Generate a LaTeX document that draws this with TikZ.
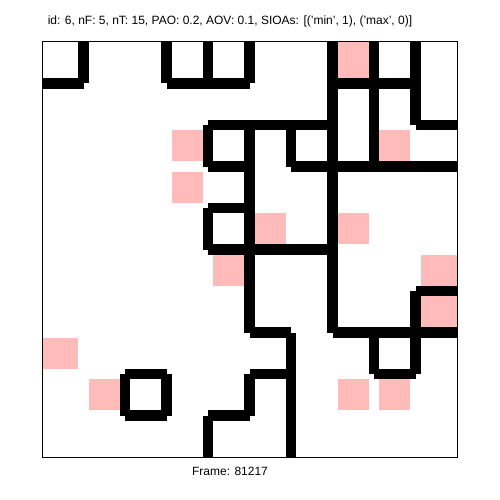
\documentclass[tikz,border=0pt]{standalone}
\usepackage{fontspec}
\setmainfont{Liberation Sans}
\definecolor{pinkc}{RGB}{255,186,186}
\tikzset{
  wall/.style={line width=10.375pt, line cap=butt, draw=black},
  cellfill/.style={fill=pinkc},
  frameline/.style={line width=1pt, draw=black},
  label/.style={font=\fontsize{12}{14}\selectfont, inner sep=0pt, anchor=base}
}
\begin{document}
\begin{tikzpicture}[x=1pt,y=-1pt]
\fill[white] (0,0) rectangle (500,500);
\useasboundingbox (0,0) rectangle (500,500);
\node[label] (title) at (230,25) {id: 6, nF: 5, nT: 15, PAO: 0.2, AOV: 0.1, SIOAs: [('min', 1), ('max', 0)]};
\node[label] (frame) at (230,475) {Frame: 81217};
\begin{scope}[shift={(42,42)}, x=41.5pt, y=-41.5pt]
  % pink cells
  \foreach \c/\r in {7/0, 3/2, 8/2, 3/3, 5/4, 7/4, 4/5, 9/5, 9/6, 0/7, 1/8, 7/8, 8/8} {
    \pgfmathsetmacro\xa{(\c==0) ? 0 : \c+0.125}
    \pgfmathsetmacro\xb{(\c==9) ? 10 : \c+0.875}
    \pgfmathsetmacro\ya{(\r==0) ? 0 : \r+0.125}
    \pgfmathsetmacro\yb{(\r==9) ? 10 : \r+0.875}
    \fill[cellfill] (\xa,\ya) rectangle (\xb,\yb);
  }
  % vertical walls
  \foreach \x/\a/\b in {1/0/1, 3/0/1, 4/0/1, 4/2/3, 4/4/5, 4/9/10,
                        5/0/1, 5/2/7, 5/8/9, 6/2/3, 6/7/10, 7/0/7,
                        8/0/3, 8/7/8, 9/0/2, 9/6/8, 2/8/9, 3/8/9} {
    \draw[wall] (\x,\a) -- (\x,\b);
  }
  % horizontal walls
  \foreach \y/\a/\b in {1/0/1, 1/3/5, 1/7/9, 2/4/7, 2/9/10, 3/4/5, 3/6/10,
                        4/4/5, 5/4/7, 6/9/10, 7/5/6, 7/7/10, 8/2/3, 8/5/6,
                        8/8/9, 9/2/3, 9/4/5} {
    \draw[wall] (\a,\y) -- (\b,\y);
  }
  \draw[frameline] (0,0) rectangle (10,10);
\end{scope}
\end{tikzpicture}
\end{document}
